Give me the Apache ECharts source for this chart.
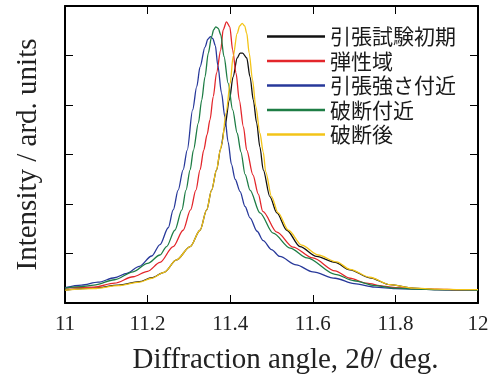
<!DOCTYPE html>
<html>
<head>
<meta charset="utf-8">
<script src="https://cdn.jsdelivr.net/npm/echarts@6/dist/echarts.min.js"></script>
<style>
  html, body { margin: 0; padding: 0; background: #fff; }
  #chart { width: 491px; height: 376px; }
</style>
</head>
<body>
<div id="chart"></div>
<script>
// legend names, in legend order
const seriesNames = ['引張試験初期', '弾性域', '引張強さ付近', '破断付近', '破断後'];
const seriesColors = ['#111111', '#e3262b', '#27389a', '#1e7d45', '#f3c418'];

// [2theta, intensity]
const initialData = [
  [11.00,0.26],[11.07,0.30],[11.13,0.36],[11.18,0.43],[11.21,0.51],[11.24,0.62],[11.27,0.87],
  [11.303,1.14],[11.327,1.47],[11.343,1.88],[11.355,2.28],[11.367,2.69],[11.377,3.12],[11.387,3.56],
  [11.398,4.10],[11.407,4.57],[11.417,4.95],[11.424,5.05],[11.430,5.05],[11.440,4.95],[11.448,4.57],
  [11.456,4.10],[11.464,3.64],[11.472,3.15],[11.480,2.69],[11.496,2.15],[11.513,1.82],[11.537,1.47],
  [11.569,1.14],[11.609,0.94],[11.654,0.82],[11.690,0.67],[11.738,0.51],[11.787,0.37],[11.843,0.30],
  [11.90,0.27],[11.96,0.26],[12.00,0.26]
];
const elasticData = [
  [11.00,0.30],[11.07,0.32],[11.12,0.40],[11.165,0.53],[11.20,0.64],[11.23,0.82],[11.262,1.14],
  [11.286,1.47],[11.304,1.88],[11.317,2.28],[11.327,2.69],[11.336,3.09],[11.344,3.40],[11.351,3.70],
  [11.359,4.17],[11.367,4.65],[11.377,5.11],[11.383,5.52],[11.391,5.68],[11.399,5.58],[11.406,5.11],
  [11.414,4.65],[11.422,4.10],[11.432,3.56],[11.440,3.09],[11.455,2.59],[11.468,2.20],[11.479,1.85],
  [11.513,1.43],[11.552,1.13],[11.600,0.91],[11.654,0.65],[11.69,0.50],[11.73,0.40],[11.77,0.34],
  [11.80,0.31],[11.85,0.29],[11.90,0.28],[11.95,0.27],[12.00,0.27]
];
const tensileData = [
  [11.00,0.31],[11.04,0.36],[11.08,0.42],[11.12,0.51],[11.15,0.60],[11.18,0.74],[11.21,0.95],
  [11.23,1.18],[11.25,1.52],[11.262,1.88],[11.274,2.28],[11.286,2.69],[11.296,3.09],[11.309,3.90],
  [11.319,4.37],[11.327,4.77],[11.339,5.17],[11.346,5.33],[11.352,5.38],[11.358,5.34],[11.364,5.20],
  [11.370,4.80],[11.379,4.24],[11.387,3.76],[11.395,3.25],[11.403,2.80],[11.412,2.50],[11.424,2.25],
  [11.436,1.95],[11.448,1.72],[11.465,1.45],[11.48,1.26],[11.50,1.08],[11.52,0.94],[11.56,0.77],
  [11.60,0.63],[11.654,0.50],[11.70,0.39],[11.75,0.32],[11.80,0.29],[11.85,0.28],[11.90,0.27],
  [11.95,0.27],[12.00,0.26]
];
const nearBreakData = [
  [11.00,0.30],[11.04,0.33],[11.07,0.36],[11.12,0.47],[11.165,0.63],[11.20,0.80],[11.23,0.97],
  [11.246,1.14],[11.266,1.47],[11.283,1.88],[11.293,2.28],[11.303,2.69],[11.311,3.09],[11.323,3.64],
  [11.331,4.10],[11.339,4.57],[11.347,5.05],[11.355,5.38],[11.360,5.52],[11.365,5.58],[11.371,5.55],
  [11.377,5.42],[11.385,4.98],[11.395,4.44],[11.406,3.90],[11.417,3.43],[11.426,3.05],[11.436,2.60],
  [11.448,2.28],[11.472,1.82],[11.504,1.41],[11.545,1.11],[11.586,0.91],[11.654,0.58],[11.70,0.45],
  [11.75,0.35],[11.80,0.30],[11.85,0.28],[11.90,0.27],[11.95,0.27],[12.00,0.26]
];
const afterBreakData = [
  [11.00,0.26],[11.07,0.29],[11.13,0.35],[11.18,0.42],[11.21,0.50],[11.24,0.62],[11.27,0.87],
  [11.303,1.14],[11.327,1.47],[11.343,1.88],[11.355,2.28],[11.367,2.69],[11.376,3.09],[11.380,3.23],
  [11.390,3.84],[11.400,4.44],[11.407,4.98],[11.417,5.45],[11.423,5.60],[11.429,5.65],[11.435,5.60],
  [11.440,5.45],[11.446,5.05],[11.454,4.51],[11.462,3.97],[11.472,3.43],[11.480,3.05],[11.486,2.65],
  [11.500,2.15],[11.516,1.82],[11.541,1.47],[11.573,1.17],[11.613,0.97],[11.658,0.83],[11.690,0.68],
  [11.738,0.52],[11.787,0.37],[11.843,0.30],[11.90,0.28],[11.96,0.27],[12.00,0.27]
];
const allData = [initialData, elasticData, tensileData, nearBreakData, afterBreakData];

const serif = '"Liberation Serif", "DejaVu Serif", serif';
const frame = { show: true, onZero: false, lineStyle: { color: '#000', width: 2 } };
const tick = { show: true, inside: true, length: 8, lineStyle: { color: '#000', width: 1 } };

const chart = echarts.init(document.getElementById('chart'));
chart.setOption({
  animation: false,
  grid: { left: 65, right: 13, top: 6, bottom: 73, outerBoundsMode: 'none' },
  legend: {
    orient: 'vertical',
    left: 262,
    top: 21,
    icon: 'rect',
    itemWidth: 58,
    itemHeight: 2.5,
    itemGap: 3.5,
    textStyle: { fontFamily: '"Noto Sans CJK JP"', fontSize: 21, lineHeight: 20, color: '#1a1a1a' },
    data: seriesNames
  },
  xAxis: [{
    type: 'value', min: 11, max: 12, interval: 0.2,
    axisLine: frame, axisTick: tick, splitLine: { show: false },
    axisLabel: { fontFamily: serif, fontSize: 21, color: '#222', margin: 11 },
    name: '{a|Diffraction angle, 2}{i|θ}{a|/ deg.}',
    nameLocation: 'middle', nameGap: 43,
    nameTextStyle: {
      padding: [0, 0, 0, 28],
      rich: {
        a: { fontFamily: serif, fontSize: 29, color: '#222' },
        i: { fontFamily: serif, fontSize: 29, fontStyle: 'italic', color: '#222' }
      }
    }
  }, {
    type: 'value', position: 'top', min: 11, max: 12, interval: 0.2,
    axisLine: frame, axisTick: tick, axisLabel: { show: false }, splitLine: { show: false }
  }],
  yAxis: [{
    type: 'value', min: 0, max: 6, interval: 1,
    axisLine: frame, axisTick: tick, axisLabel: { show: false }, splitLine: { show: false },
    name: 'Intensity / ard. units', nameLocation: 'middle', nameGap: 22,
    nameTextStyle: { fontFamily: serif, fontSize: 29, color: '#222' }
  }, {
    type: 'value', position: 'right', min: 0, max: 6, interval: 1,
    axisLine: frame, axisTick: tick, axisLabel: { show: false }, splitLine: { show: false }
  }],
  series: seriesNames.map((name, i) => ({
    name: name,
    type: 'line',
    data: allData[i],
    color: seriesColors[i],
    showSymbol: false,
    smooth: 0.3,
    smoothMonotone: 'x',
    lineStyle: { width: 1.3 }
  }))
});
</script>
</body>
</html>
